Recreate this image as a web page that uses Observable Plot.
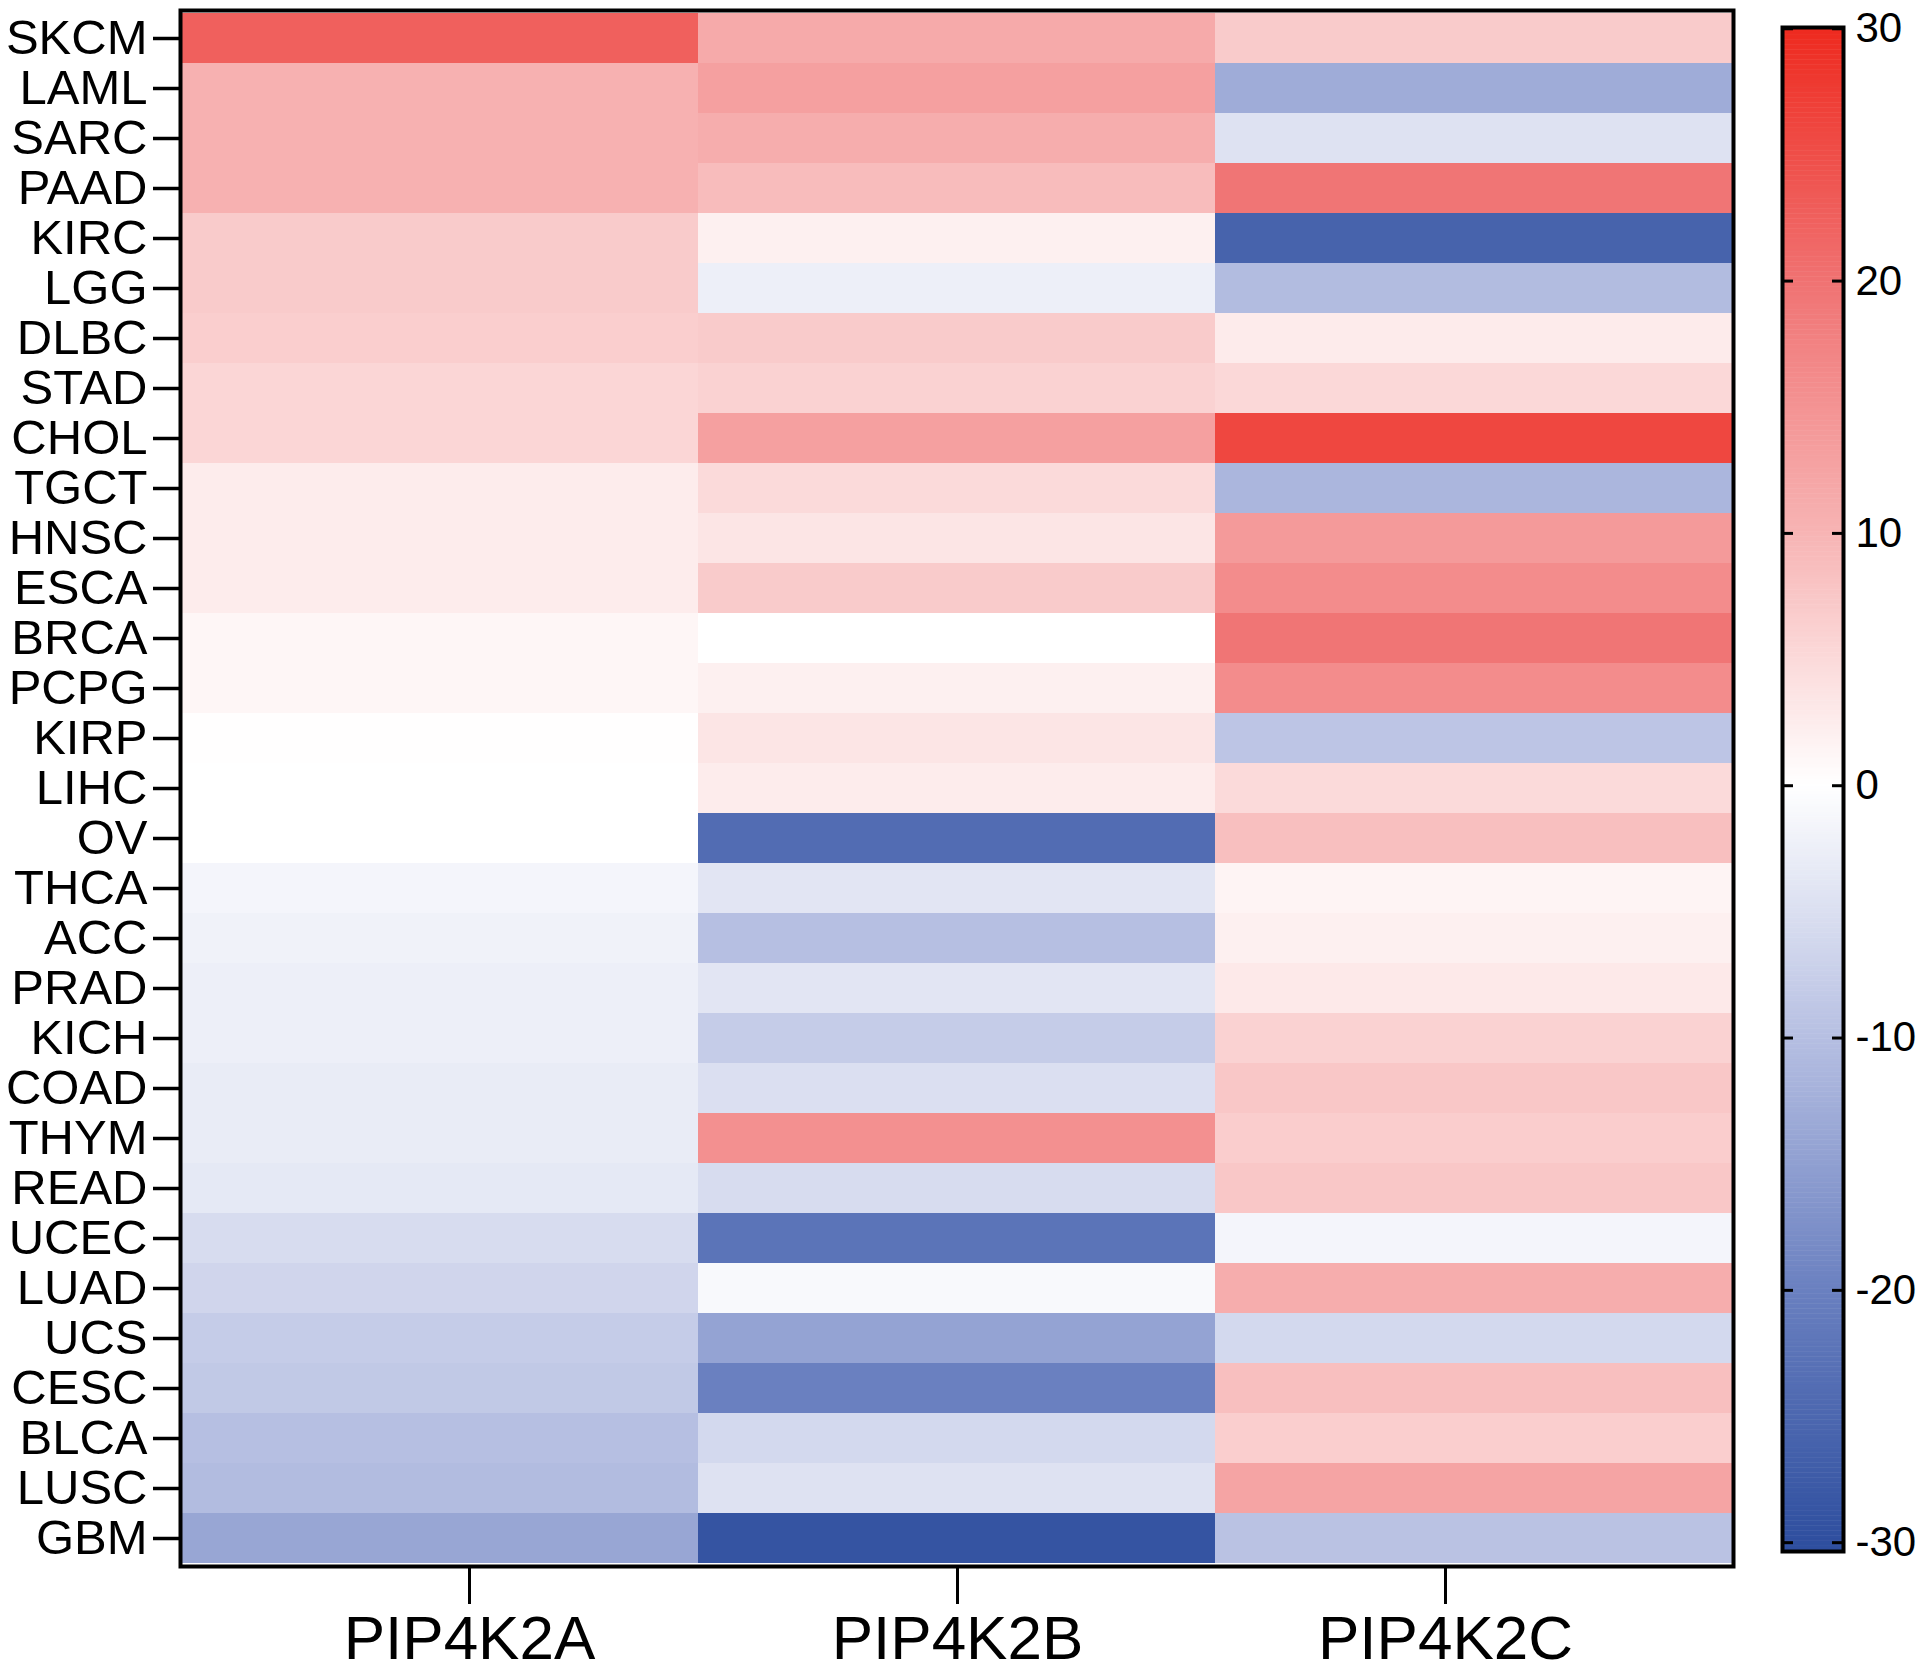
<!DOCTYPE html>
<html>
<head>
<meta charset="utf-8">
<script src="https://cdn.jsdelivr.net/npm/d3@7"></script>
<script src="https://cdn.jsdelivr.net/npm/@observablehq/plot@0.6"></script>
<style>
  html, body { margin: 0; padding: 0; background: #fff; }
  #fig { position: relative; width: 1920px; height: 1676px; overflow: hidden; }
  #fig > svg { position: absolute; top: 0; }
</style>
</head>
<body>
<div id="fig"></div>
<script>
const genes = ["PIP4K2A", "PIP4K2B", "PIP4K2C"];
const cancers = ["SKCM","LAML","SARC","PAAD","KIRC","LGG","DLBC","STAD","CHOL","TGCT","HNSC","ESCA","BRCA","PCPG","KIRP","LIHC","OV","THCA","ACC","PRAD","KICH","COAD","THYM","READ","UCEC","LUAD","UCS","CESC","BLCA","LUSC","GBM"];
const pip4k2a = [22.5,10.5,10.5,10.5,7,7,6.5,5.5,5.5,2.5,2.5,2.5,1.2,1.2,0.1,0,0,-1.5,-2,-2.5,-2.5,-3,-3,-3.5,-5.5,-6.5,-8,-8.5,-10,-10.5,-14];
const pip4k2b = [11.5,13,11,9,2,-2.5,7,6,13,5,3.5,7,0,2,3.5,2.5,-24,-4,-10,-4,-8,-5,15.5,-5.5,-22.5,-1,-14.5,-20,-6,-4.5,-29];
const pip4k2c = [7,-13,-4.5,19.5,-26,-10.5,2.7,5.2,26,-11.5,14,16,19.5,16,-9,5,8.5,1.5,2,3,6,7.5,6.7,7.5,-1.5,11,-6,8.5,6.5,12.5,-9.5];
const colorTicks = [-30, -20, -10, 0, 10, 20, 30];
const colorStops = ["#2f4f9f", "#6a80c0", "#b6bfe2", "#ffffff", "#f7b4b4", "#f07272", "#ee2a1f"];

const series = [pip4k2a, pip4k2b, pip4k2c];
const data = cancers.flatMap((c, i) => genes.map((g, j) => ({cancer: c, gene: g, value: series[j][i]})));

const font = "'Liberation Sans', Arial, Helvetica, sans-serif";
const colorScale = {type: "linear", domain: colorTicks, range: colorStops, interpolate: "rgb"};

const W = 1920, H = 1676;
const mL = 180, mR = 187, mT = 10, mB = 110;

const main = Plot.plot({
  width: W, height: H,
  marginLeft: mL, marginRight: mR, marginTop: mT, marginBottom: mB,
  style: {fontFamily: font, color: "black", background: "transparent"},
  x: {domain: genes, padding: 0, axis: null},
  y: {domain: cancers, padding: 0},
  color: colorScale,
  marks: [
    Plot.cell(data, {x: "gene", y: "cancer", fill: "value", inset: 0}),
    Plot.axisY({tickSize: 27, tickPadding: 6, fontSize: 49, strokeWidth: 3.5, label: null}),
    Plot.frame({stroke: "black", strokeWidth: 4})
  ]
});

const xaxis = Plot.plot({
  width: W, height: H,
  marginLeft: mL, marginRight: mR, marginTop: mT, marginBottom: mB,
  style: {fontFamily: font, color: "black", background: "transparent"},
  x: {type: "point", domain: genes, padding: 0.59},
  y: {axis: null, domain: [0, 1]},
  marks: [
    Plot.axisX({tickSize: 38, tickPadding: 10, fontSize: 62, strokeWidth: 3, label: null})
  ]
});

// Colour bar (legend ramp) sampled from the same colour scale
const rampStep = 0.1;
const ramp = d3.range(-30.35, 30.05, rampStep);
const cbW = 220;
const cbar = Plot.plot({
  width: cbW, height: H,
  marginLeft: 82, marginRight: 77, marginTop: 27, marginBottom: 125,
  style: {fontFamily: font, color: "black", background: "transparent"},
  x: {domain: [0, 1], axis: null},
  y: {domain: [-30.35, 30.05], axis: null},
  color: colorScale,
  marks: [
    Plot.rect(ramp, {x1: 0, x2: 1, y1: d => d, y2: d => d + rampStep + 0.02, fill: d => Math.max(-30, Math.min(30, d + rampStep / 2))}),
    Plot.ruleY(colorTicks, {y: d => d, x1: 0, x2: 0.18, strokeWidth: 3}),
    Plot.ruleY(colorTicks, {y: d => d, x1: 0.82, x2: 1, strokeWidth: 3}),
    Plot.axisY({anchor: "right", ticks: colorTicks, tickSize: 0, tickPadding: 12, fontSize: 42, tickFormat: d => String(d), label: null}),
    Plot.frame({stroke: "black", strokeWidth: 4})
  ]
});

const fig = document.getElementById("fig");
main.style.left = "0px";
xaxis.style.left = "0px";
cbar.style.left = "1700px";
fig.appendChild(main);
fig.appendChild(xaxis);
fig.appendChild(cbar);
</script>
</body>
</html>
